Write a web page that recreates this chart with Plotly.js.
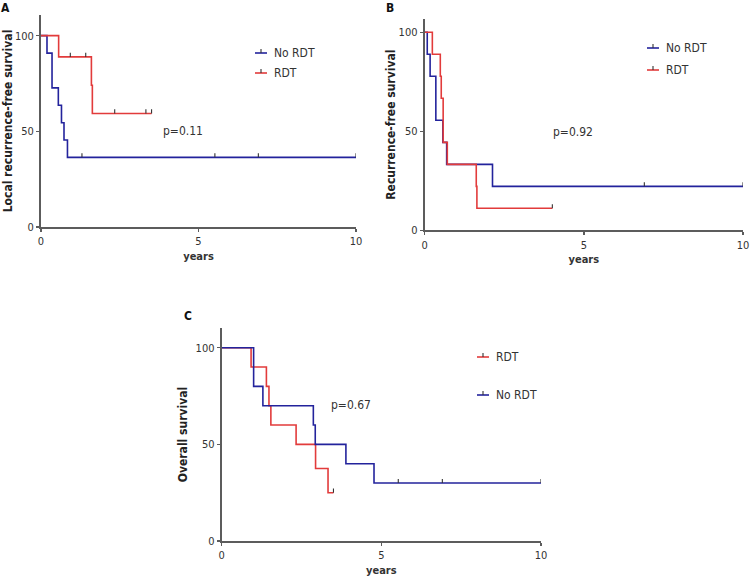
<!DOCTYPE html>
<html>
<head>
<meta charset="utf-8">
<script src="https://cdn.plot.ly/plotly-3.0.1.min.js"></script>
<style>html,body{margin:0;padding:0;background:#fff;}#chart{width:750px;height:580px;}</style>
</head>
<body>
<div id="chart"></div>
<script>
// ---------- DATA ----------
// Panel A: Local recurrence-free survival
const aNoTimes   = [0, 0.19, 0.35, 0.55, 0.65, 0.73, 0.84, 10];
const aNoSurv    = [100, 90.9, 72.7, 63.6, 54.5, 45.5, 36.4, 36.4];
const aNoCensT   = [1.30, 5.52, 6.90, 10];
const aNoCensS   = [36.4, 36.4, 36.4, 36.4];
const aRdtTimes  = [0, 0.56, 1.60, 1.63, 3.51];
const aRdtSurv   = [100, 88.9, 74.1, 59.3, 59.3];
const aRdtCensT  = [0.93, 1.42, 2.34, 3.33, 3.51];
const aRdtCensS  = [88.9, 88.9, 59.3, 59.3, 59.3];

// Panel B: Recurrence-free survival
const bNoTimes   = [0, 0.08, 0.17, 0.35, 0.57, 0.69, 2.13, 10];
const bNoSurv    = [100, 88.9, 77.8, 55.6, 44.4, 33.3, 22.2, 22.2];
const bNoCensT   = [6.90, 10];
const bNoCensS   = [22.2, 22.2];
const bRdtTimes  = [0, 0.24, 0.49, 0.52, 0.58, 0.71, 1.62, 1.64, 4.01];
const bRdtSurv   = [100, 88.9, 77.8, 66.7, 44.4, 33.3, 22.2, 11.1, 11.1];
const bRdtCensT  = [4.01];
const bRdtCensS  = [11.1];

// Panel C: Overall survival
const cRdtTimes  = [0, 0.92, 1.40, 1.48, 1.54, 2.33, 2.94, 3.33, 3.50];
const cRdtSurv   = [100, 90, 80, 70, 60, 50, 37.5, 25, 25];
const cRdtCensT  = [3.50];
const cRdtCensS  = [25];
const cNoTimes   = [0, 1.00, 1.29, 2.87, 2.93, 3.89, 4.77, 10];
const cNoSurv    = [100, 80, 70, 60, 50, 40, 30, 30];
const cNoCensT   = [5.53, 6.91, 10];
const cNoCensS   = [30, 30, 30];

const xTicks = [0, 5, 10];
const yTicks = [0, 50, 100];
const pValues = ['p=0.11', 'p=0.92', 'p=0.67'];
const pPos = [[4.5, 50.2], [4.66, 49.6], [4.05, 70.4]];
const yTitles = ['Local recurrence-free survival', 'Recurrence-free survival', 'Overall survival'];
const groupNames = ['No RDT', 'RDT'];

// ---------- STYLE ----------
const BLUE = '#23239c';
const RED = '#e23b3b';
const TICKC = '#333333';
const AXC = '#5c5c5c';
const FONT = 'Liberation Sans Narrow, DejaVu Sans Condensed, Arial Narrow, sans-serif';
const W = 750, H = 580;
const px = v => v / W, py = v => 1 - v / H;

function curve(t, s, color, name, xa, ya) {
  return {x: t, y: s, mode: 'lines', line: {shape: 'hv', color: color, width: 1.6},
          name: name, xaxis: xa, yaxis: ya, showlegend: false, hoverinfo: 'x+y'};
}
function censors(t, s, xa, ya, h) {
  const xs = [], ys = [];
  t.forEach((tt, i) => { xs.push(tt, tt, null); ys.push(s[i], s[i] + h, null); });
  return {x: xs, y: ys, mode: 'lines', line: {color: TICKC, width: 1.1},
          xaxis: xa, yaxis: ya, showlegend: false, hoverinfo: 'skip'};
}

const data = [
  curve(aNoTimes, aNoSurv, BLUE, groupNames[0], 'x', 'y'),
  curve(aRdtTimes, aRdtSurv, RED, groupNames[1], 'x', 'y'),
  censors(aNoCensT, aNoCensS, 'x', 'y', 2.2),
  censors(aRdtCensT, aRdtCensS, 'x', 'y', 2.2),
  curve(bNoTimes, bNoSurv, BLUE, groupNames[0], 'x2', 'y2'),
  curve(bRdtTimes, bRdtSurv, RED, groupNames[1], 'x2', 'y2'),
  censors(bNoCensT, bNoCensS, 'x2', 'y2', 2.1),
  censors(bRdtCensT, bRdtCensS, 'x2', 'y2', 2.1),
  curve(cRdtTimes, cRdtSurv, RED, groupNames[1], 'x3', 'y3'),
  curve(cNoTimes, cNoSurv, BLUE, groupNames[0], 'x3', 'y3'),
  censors(cRdtCensT, cRdtCensS, 'x3', 'y3', 2.1),
  censors(cNoCensT, cNoCensS, 'x3', 'y3', 2.1)
];

function xAxis(dom, anchor) {
  return {domain: dom, anchor: anchor, range: [0, 10], tickvals: xTicks, ticktext: xTicks.map(String),
    showline: true, linecolor: AXC, linewidth: 2, ticks: 'outside', ticklen: 3, tickwidth: 1.5,
    tickcolor: AXC, showgrid: false, zeroline: false, fixedrange: true,
    tickfont: {family: FONT, size: 11, color: TICKC},
    title: {text: 'years', standoff: 5, font: {family: FONT, size: 11, color: TICKC, weight: 'bold'}}};
}
function yAxis(dom, anchor, top, title, standoff) {
  return {domain: dom, anchor: anchor, range: [0, top], tickvals: yTicks, ticktext: yTicks.map(String),
    showline: true, linecolor: AXC, linewidth: 2, ticks: 'outside', ticklen: 3, tickwidth: 1.5,
    tickcolor: AXC, showgrid: false, zeroline: false, fixedrange: true,
    tickfont: {family: FONT, size: 11, color: TICKC},
    title: {text: title, standoff: standoff, font: {family: FONT, size: 12, color: '#222', weight: 'bold'}}};
}

const shapes = [];
const annotations = [];
function legendItem(x0, y, color, label) {
  shapes.push({type: 'line', xref: 'paper', yref: 'paper', x0: px(x0), x1: px(x0 + 12), y0: py(y), y1: py(y),
               line: {color: color, width: 1.6}});
  shapes.push({type: 'line', xref: 'paper', yref: 'paper', x0: px(x0 + 6), x1: px(x0 + 6), y0: py(y), y1: py(y - 4),
               line: {color: TICKC, width: 1.1}});
  annotations.push({xref: 'paper', yref: 'paper', x: px(x0 + 17), y: py(y), text: label, showarrow: false,
                    xanchor: 'left', yanchor: 'middle', font: {family: FONT, size: 12, color: TICKC}});
}
legendItem(255, 53, BLUE, groupNames[0]);
legendItem(255, 73, RED, groupNames[1]);
legendItem(647, 48, BLUE, groupNames[0]);
legendItem(647, 70, RED, groupNames[1]);
legendItem(477, 357, RED, groupNames[1]);
legendItem(477, 395, BLUE, groupNames[0]);

['x', 'x2', 'x3'].forEach((xr, i) => {
  annotations.push({xref: xr, yref: 'y' + (i ? i + 1 : ''), x: pPos[i][0], y: pPos[i][1], text: pValues[i],
    showarrow: false, xanchor: 'center', yanchor: 'middle', font: {family: FONT, size: 12, color: TICKC}});
});
[['A', 5, 8], ['B', 390, 8], ['C', 188, 316]].forEach(p => {
  annotations.push({xref: 'paper', yref: 'paper', x: px(p[1]), y: py(p[2]), text: '<b>' + p[0] + '</b>',
    showarrow: false, xanchor: 'center', yanchor: 'middle', font: {family: FONT, size: 12, color: '#111'}});
});

const layout = {
  width: W, height: H, margin: {l: 0, r: 0, t: 0, b: 0}, paper_bgcolor: '#fff', plot_bgcolor: '#fff',
  showlegend: false,
  xaxis: xAxis([px(41), px(356)], 'y'),
  yaxis: yAxis([py(227), py(15)], 'x', 110.8, yTitles[0], 0),
  xaxis2: xAxis([px(424.7), px(743)], 'y2'),
  yaxis2: yAxis([py(230.3), py(19)], 'x2', 106.7, yTitles[1], 0),
  xaxis3: xAxis([px(221.7), px(541)], 'y3'),
  yaxis3: yAxis([py(541), py(328)], 'x3', 110.2, yTitles[2], 5),
  shapes: shapes, annotations: annotations
};

Plotly.newPlot('chart', data, layout, {displayModeBar: false, staticPlot: true});
</script>
</body>
</html>
